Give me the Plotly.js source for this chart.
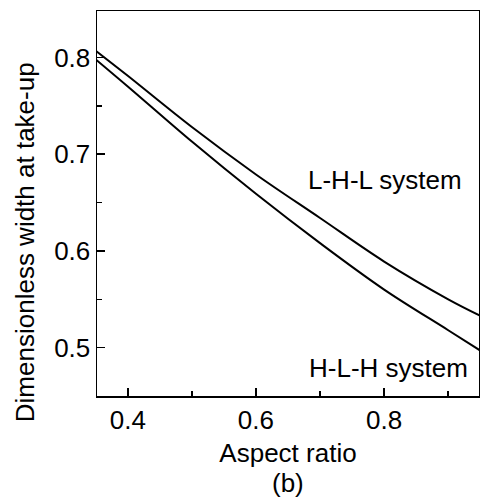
<!DOCTYPE html>
<html>
<head>
<meta charset="utf-8">
<script src="https://cdn.plot.ly/plotly-3.0.1.min.js"></script>
<style>html,body{margin:0;padding:0;background:#fff}#chart{width:480px;height:503px}</style>
</head>
<body>
<div id="chart"></div>
<script>
const aspectRatio = [0.35, 0.40, 0.50, 0.60, 0.70, 0.80, 0.90, 0.95];
const lhlWidth    = [0.807, 0.781, 0.728, 0.679, 0.634, 0.589, 0.550, 0.533];
const hlhWidth    = [0.798, 0.770, 0.713, 0.659, 0.608, 0.560, 0.518, 0.497];
const seriesNames = ["L-H-L system", "H-L-H system"];

const font = "Liberation Sans, Arial, sans-serif";
const fs = 26;
const traces = [
  {x: aspectRatio, y: lhlWidth, name: seriesNames[0], mode: "lines", line: {color: "#000", width: 2, shape: "spline"}},
  {x: aspectRatio, y: hlhWidth, name: seriesNames[1], mode: "lines", line: {color: "#000", width: 2, shape: "spline"}}
];
const layout = {
  width: 480, height: 503,
  margin: {l: 97, r: 1, t: 11, b: 107},
  showlegend: false,
  paper_bgcolor: "#fff", plot_bgcolor: "#fff",
  font: {family: font, color: "#000", size: fs},
  xaxis: {
    range: [0.352, 0.948], tickmode: "linear", tick0: 0.4, dtick: 0.2,
    ticks: "inside", ticklen: 8, tickwidth: 1.5, tickcolor: "#000",
    minor: {dtick: 0.1, tick0: 0.4, ticks: "inside", ticklen: 5, tickwidth: 1.5, tickcolor: "#000"},
    showline: true, linecolor: "#000", linewidth: 1.5, mirror: true,
    showgrid: false, zeroline: false, tickformat: ".1f",
    tickfont: {size: fs, family: font},
    title: {text: "Aspect ratio", font: {size: fs, family: font}, standoff: 10}
  },
  yaxis: {
    range: [0.45, 0.848], tickmode: "linear", tick0: 0.5, dtick: 0.1,
    ticks: "inside", ticklen: 8, tickwidth: 1.5, tickcolor: "#000",
    minor: {dtick: 0.05, tick0: 0.5, ticks: "inside", ticklen: 5, tickwidth: 1.5, tickcolor: "#000"},
    showline: true, linecolor: "#000", linewidth: 1.5, mirror: true,
    showgrid: false, zeroline: false, tickformat: ".1f",
    tickfont: {size: fs, family: font}
  },
  annotations: [
    {text: "Dimensionless width at take-up", xref: "paper", yref: "paper",
     x: -0.188, y: 0.40, textangle: -90, showarrow: false,
     font: {size: fs, family: font}, xanchor: "center", yanchor: "middle"},
    {text: seriesNames[0], xref: "paper", yref: "paper", x: 0.753, y: 0.561,
     showarrow: false, font: {size: fs, family: font}, xanchor: "center", yanchor: "middle"},
    {text: seriesNames[1], xref: "paper", yref: "paper", x: 0.762, y: 0.073,
     showarrow: false, font: {size: fs, family: font}, xanchor: "center", yanchor: "middle"},
    {text: "(b)", xref: "paper", yref: "paper", x: 0.5, y: -0.226,
     showarrow: false, font: {size: fs, family: font}, xanchor: "center", yanchor: "middle"}
  ]
};
Plotly.newPlot("chart", traces, layout, {staticPlot: true, displayModeBar: false});
</script>
</body>
</html>
